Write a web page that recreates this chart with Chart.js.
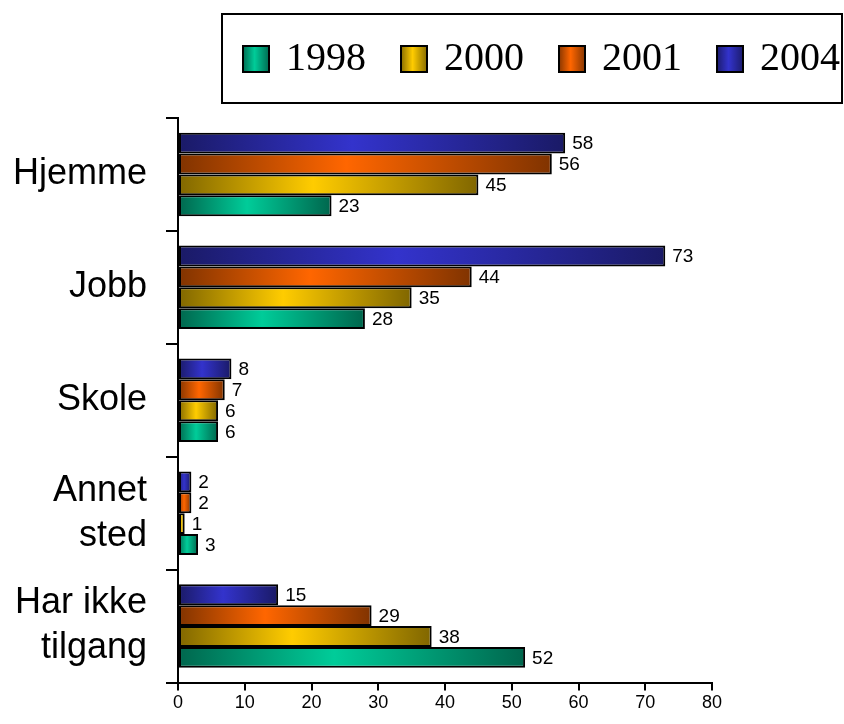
<!DOCTYPE html>
<html>
<head>
<meta charset="utf-8">
<title>Internett-tilgang</title>
<script src="https://cdn.jsdelivr.net/npm/chart.js@4/dist/chart.umd.min.js"></script>
<style>
  html, body { margin: 0; padding: 0; background: #fff; }
  #wrap { width: 844px; height: 724px; }
</style>
</head>
<body>
<div id="wrap"><canvas id="chart" width="844" height="724"></canvas></div>
<script>
// categories and series
const categories = ['Hjemme', 'Jobb', 'Skole', ['Annet', 'sted'], ['Har ikke', 'tilgang']];
const years = ['1998', '2000', '2001', '2004'];
const values1998 = [23, 28, 6, 3, 52];
const values2000 = [45, 35, 6, 1, 38];
const values2001 = [56, 44, 7, 2, 29];
const values2004 = [58, 73, 8, 2, 15];
const xTicks = [0, 10, 20, 30, 40, 50, 60, 70, 80];

// bright middle / dark edge of each bar
const palette = {
    '1998': { mid: '#00CC99', edge: '#00664D' },
    '2000': { mid: '#FFCC00', edge: '#806600' },
    '2001': { mid: '#FF6600', edge: '#803300' },
    '2004': { mid: '#3333CC', edge: '#1A1A66' }
};

const LEGEND_GAP = 29;

// horizontal gradient running along each bar
function barFill(year) {
    const c = palette[year];
    return function (ctx) {
        const chart = ctx.chart;
        const scale = chart.scales && chart.scales.x;
        if (!scale || ctx.raw == null) return c.mid;
        const x0 = scale.getPixelForValue(0);
        const x1 = scale.getPixelForValue(ctx.raw);
        if (!isFinite(x0) || !isFinite(x1) || x1 === x0) return c.mid;
        const g = chart.ctx.createLinearGradient(x0, 0, x1, 0);
        g.addColorStop(0, c.edge);
        g.addColorStop(0.45, c.mid);
        g.addColorStop(1, c.edge);
        return g;
    };
}

// small gradient swatch for the legend
function swatch(year) {
    const c = palette[year];
    const cv = document.createElement('canvas');
    cv.width = 28;
    cv.height = 28;
    const g2 = cv.getContext('2d');
    const g = g2.createLinearGradient(0, 0, 28, 0);
    g.addColorStop(0, c.edge);
    g.addColorStop(0.45, c.mid);
    g.addColorStop(1, c.edge);
    g2.fillStyle = g;
    g2.fillRect(1, 1, 26, 26);
    g2.lineWidth = 2;
    g2.strokeStyle = '#000';
    g2.strokeRect(1, 1, 26, 26);
    return cv;
}

const swatches = {};
years.forEach(y => { swatches[y] = swatch(y); });

function makeDataset(year, data) {
    return {
        label: year,
        data: data,
        backgroundColor: barFill(year),
        borderColor: '#000',
        borderWidth: 2,
        borderSkipped: false,
        barPercentage: 1,
        categoryPercentage: 0.74
    };
}

// top-to-bottom order inside each group: 2004, 2001, 2000, 1998
const datasets = [
    makeDataset('2004', values2004),
    makeDataset('2001', values2001),
    makeDataset('2000', values2000),
    makeDataset('1998', values1998)
];

// value printed just right of each bar
const valueLabels = {
    id: 'valueLabels',
    afterDatasetsDraw(chart) {
        const ctx = chart.ctx;
        ctx.save();
        ctx.font = '19px "Liberation Sans", Arial, sans-serif';
        ctx.fillStyle = '#000';
        ctx.textAlign = 'left';
        ctx.textBaseline = 'middle';
        chart.data.datasets.forEach((ds, i) => {
            const meta = chart.getDatasetMeta(i);
            meta.data.forEach((bar, j) => {
                ctx.fillText(String(ds.data[j]), bar.x + 7, bar.y + 1);
            });
        });
        ctx.restore();
    }
};

// extra room under the legend, and the frame round it
const legendFrame = {
    id: 'legendFrame',
    beforeLayout(chart) {
        const legend = chart.legend;
        if (legend && !legend._gapAdded) {
            const fit = legend.fit;
            legend.fit = function () {
                fit.call(this);
                this.height += LEGEND_GAP;
            };
            legend._gapAdded = true;
        }
    },
    afterDraw(chart) {
        const boxes = chart.legend && chart.legend.legendHitBoxes;
        if (!boxes || !boxes.length) return;
        const first = boxes[0];
        const last = boxes[boxes.length - 1];
        const cy = first.top + first.height / 2;
        const ctx = chart.ctx;
        ctx.save();
        ctx.lineWidth = 2;
        ctx.strokeStyle = '#000';
        const left = first.left - 24;
        const right = last.left + last.width + 2;
        ctx.strokeRect(left, cy - 45, right - left, 89);
        ctx.restore();
    }
};

new Chart(document.getElementById('chart'), {
    type: 'bar',
    data: { labels: categories, datasets: datasets },
    plugins: [valueLabels, legendFrame],
    options: {
        indexAxis: 'y',
        responsive: false,
        animation: false,
        layout: { padding: { top: 1, right: -34, left: -6, bottom: 0 } },
        plugins: {
            tooltip: { enabled: false },
            legend: {
                position: 'top',
                align: 'end',
                labels: {
                    usePointStyle: true,
                    pointStyleWidth: 20,
                    padding: 38,
                    color: '#000',
                    font: { family: '"Liberation Serif", "Times New Roman", serif', size: 40 },
                    generateLabels(chart) {
                        return years.map(y => ({
                            text: y,
                            pointStyle: swatches[y],
                            fillStyle: palette[y].mid,
                            strokeStyle: '#000',
                            lineWidth: 0,
                            hidden: false,
                            datasetIndex: chart.data.datasets.findIndex(d => d.label === y)
                        }));
                    }
                }
            }
        },
        scales: {
            x: {
                type: 'linear',
                min: 0,
                max: 80,
                afterBuildTicks(scale) {
                    scale.ticks = xTicks.map(v => ({ value: v }));
                },
                afterFit(scale) {
                    scale.paddingRight = 132;
                },
                grid: {
                    drawOnChartArea: false,
                    drawTicks: true,
                    tickLength: 8,
                    color: '#000',
                    lineWidth: 2
                },
                border: { display: true, color: '#000', width: 2 },
                ticks: {
                    padding: 2,
                    color: '#000',
                    maxRotation: 0,
                    font: { family: '"Liberation Sans", Arial, sans-serif', size: 18 }
                }
            },
            y: {
                offset: true,
                grid: {
                    offset: true,
                    drawOnChartArea: false,
                    drawTicks: true,
                    tickLength: 12,
                    color: '#000',
                    lineWidth: 2
                },
                border: { display: true, color: '#000', width: 2 },
                ticks: {
                    padding: 19,
                    color: '#000',
                    font: { family: '"Liberation Sans", Arial, sans-serif', size: 36, lineHeight: 1.25 }
                }
            }
        }
    }
});
</script>
</body>
</html>
